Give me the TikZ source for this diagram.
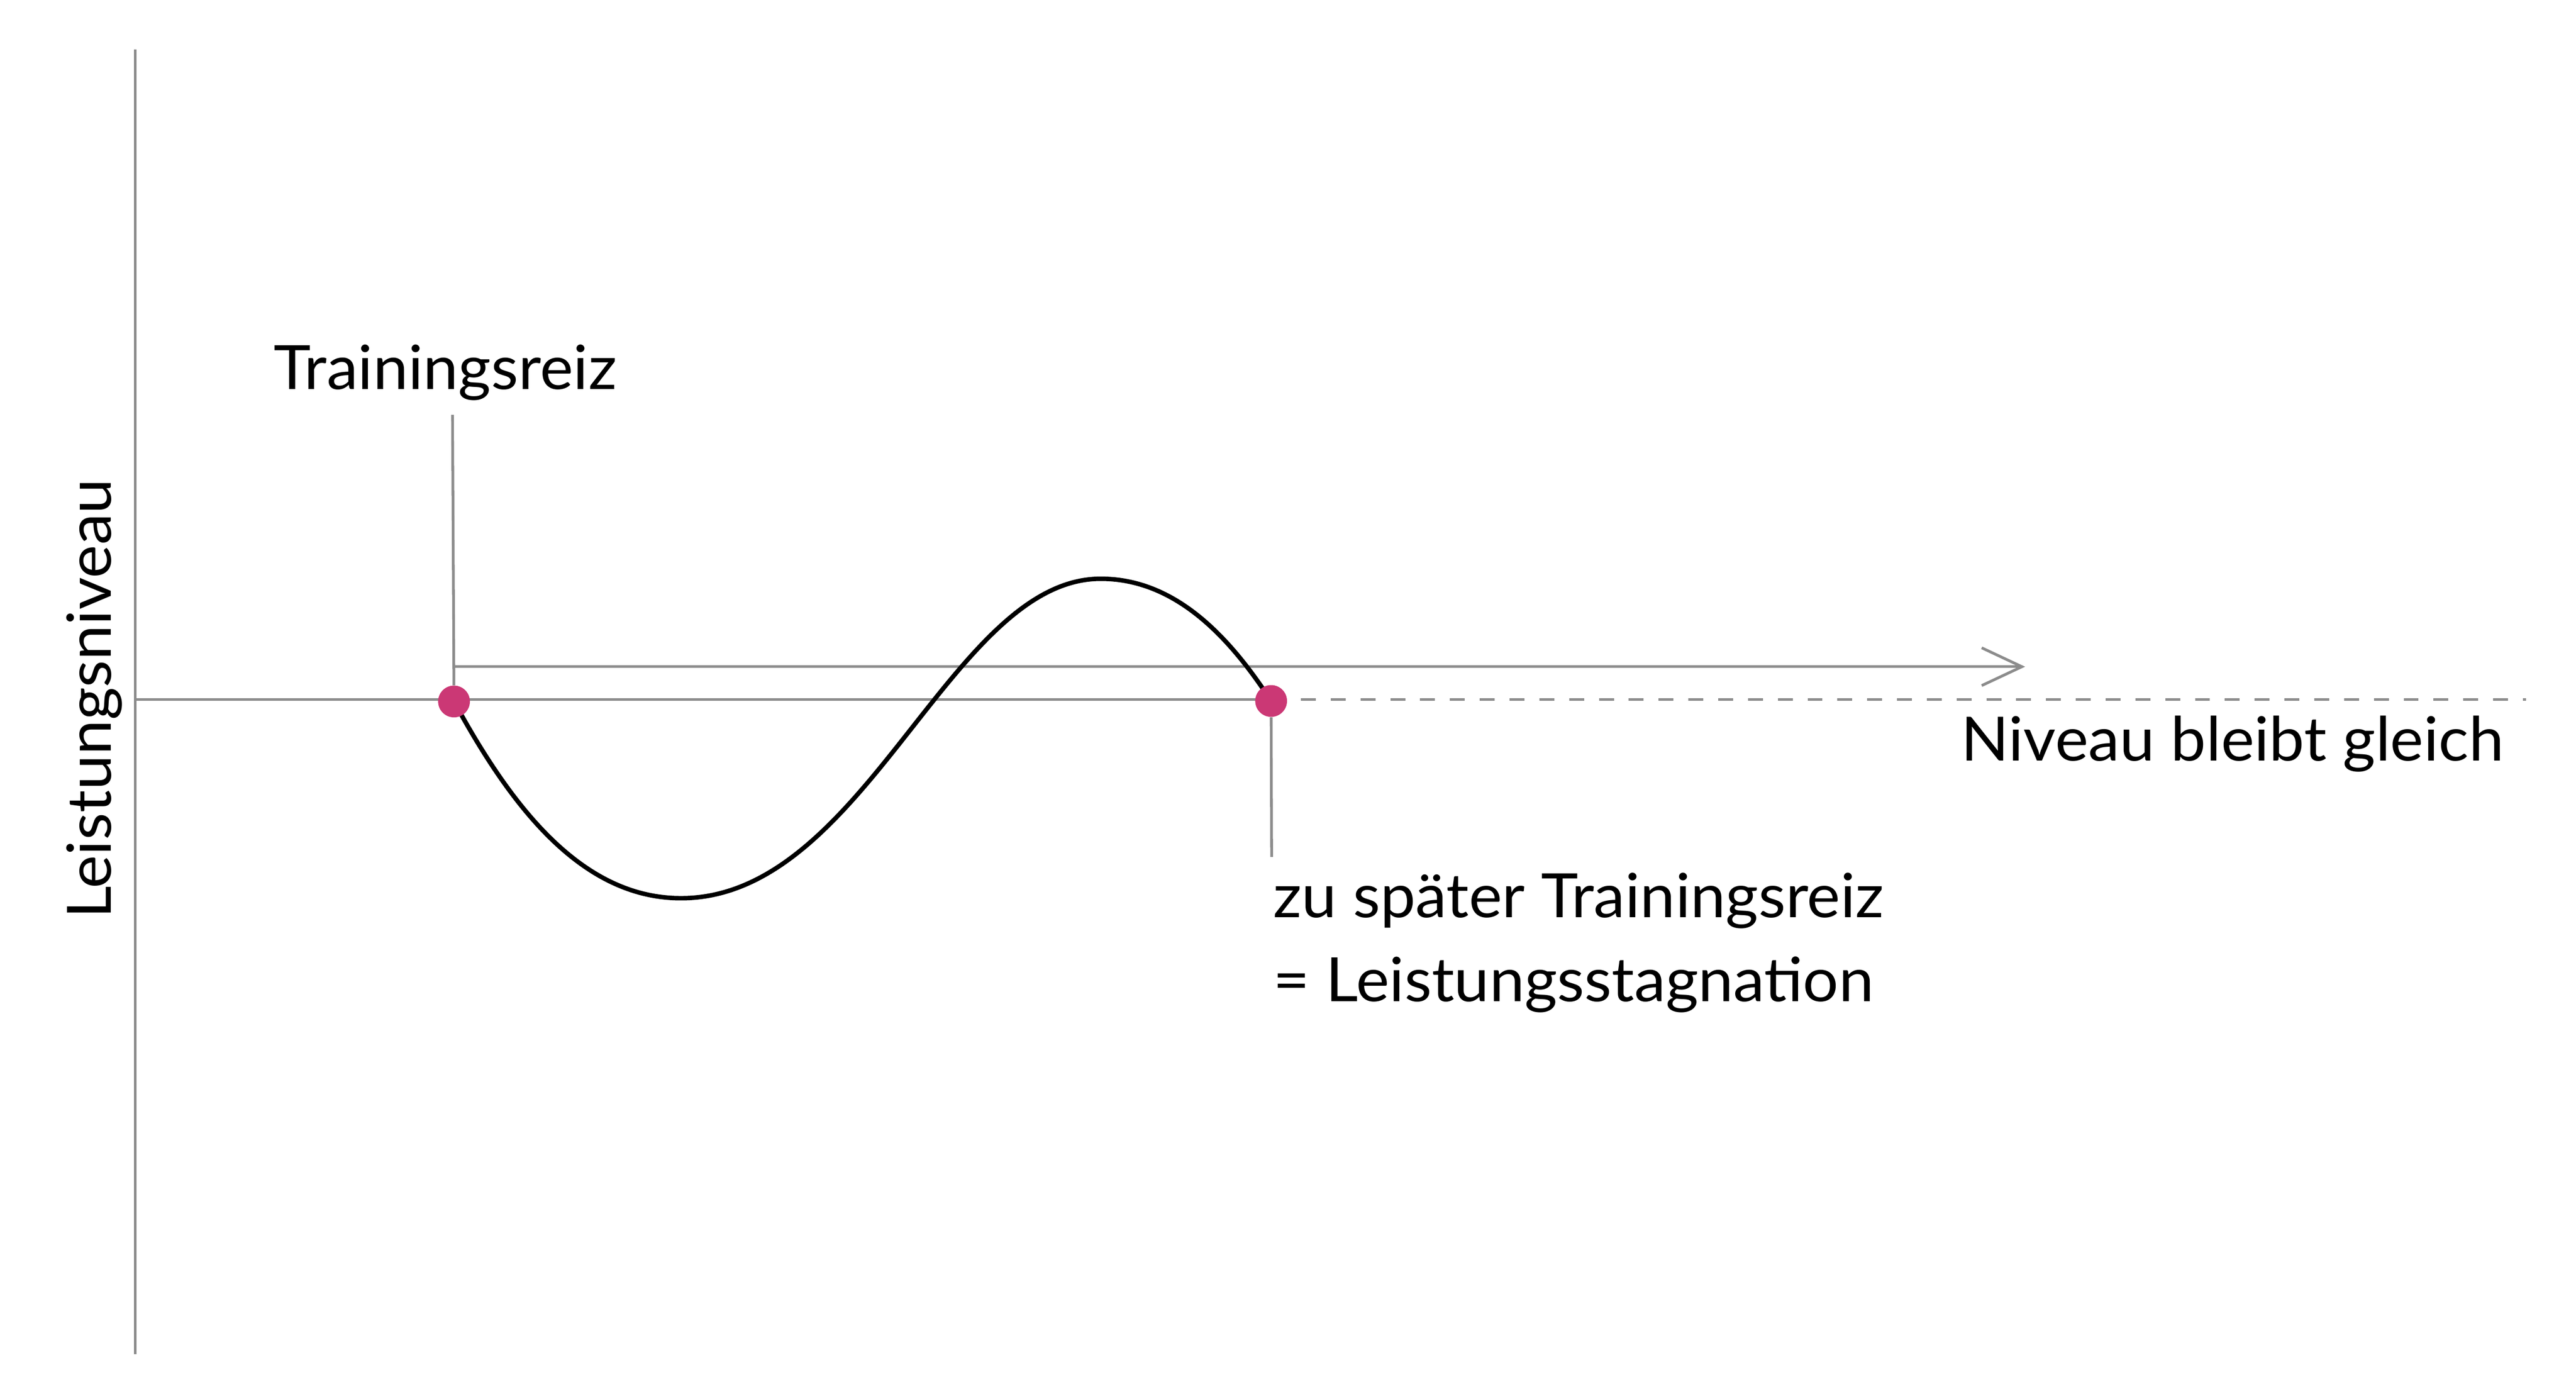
\documentclass[tikz,border=0pt]{standalone}
\usepackage{fontspec}
\setmainfont{Lato}[FakeStretch = 1.03]
\usetikzlibrary{arrows.meta}
\usetikzlibrary{backgrounds}

\begin{document}
\begin{tikzpicture}
	\definecolor{achsgrau}{RGB}{140,140,140}
	\definecolor{punktrot}{RGB}{203,56,117}
	\tikzstyle{grauLinie} = [draw = achsgrau, line width = 0.055cm]
	\tikzstyle{kurvenStyle} = [draw = black, line width = 0.09cm]
	\tikzstyle{punktStyle} = [shape = circle, minimum size = 0.64cm, inner sep = 0pt, fill = punktrot]
	\tikzstyle{textStyle} = [inner sep = 0pt, font = \fontsize{35pt}{48pt}\selectfont]
	\useasboundingbox (0,0) rectangle (51.86,28.15);
	\coordinate (achseOben) at (2.72,27.15);
	\coordinate (achseUnten) at (2.72,0.89);
	\coordinate (nullpunkt) at (2.72,14.07);
	\coordinate (niveauEnde) at (50.85,14.07);
	\coordinate (reizOben) at (9.11,19.80);
	\coordinate (spaetUnten) at (25.60,10.90);
	\coordinate (pfeilStart) at (9.14,14.73);
	\coordinate (pfeilEnde) at (40.77,14.73);
	\coordinate (tief) at (13.71,10.07);
	\coordinate (hoch) at (22.16,16.50);
	\node[punktStyle] (reiz) at (9.14,14.03) {};
	\node[punktStyle] (spaet) at (25.59,14.04) {};
	\node[textStyle, anchor = base west] (reizText) at (5.51,20.31) {Trainingsreiz};
	\node[textStyle, anchor = base west] (spaetText) at (25.63,9.68) {zu später Trainingsreiz};
	\node[textStyle, anchor = base west] (stagText) at (25.63,7.99) {= Leistungsstagnation};
	\node[textStyle, anchor = base west] (gleichText) at (39.47,12.84) {Niveau bleibt gleich};
	\node[textStyle, anchor = base west, rotate = 90] (achsText) at (2.24,9.65) {Leistungsniveau};
	\begin{scope}[on background layer]
		\draw[grauLinie] (achseUnten) -- (achseOben);
		\draw[grauLinie] (nullpunkt) -- (nullpunkt -| spaet);
		\draw[grauLinie, dash pattern = on 0.3cm off 0.3cm] (nullpunkt -| spaet) -- (niveauEnde);
		\draw[grauLinie] (reizOben) -- (reiz);
		\draw[grauLinie] (spaet) -- (spaetUnten);
		\draw[grauLinie, -{Straight Barb[length = 0.81cm, width = 0.76cm]}] (pfeilStart) -- (pfeilEnde);
		\draw[kurvenStyle] (reiz.center) .. controls (10.29,11.91) and (11.71,10.07) .. (tief) .. controls (17.42,10.07) and (19.13,16.50) .. (hoch) .. controls (23.68,16.50) and (24.77,15.30) .. (spaet.center);
	\end{scope}
\end{tikzpicture}
\end{document}
